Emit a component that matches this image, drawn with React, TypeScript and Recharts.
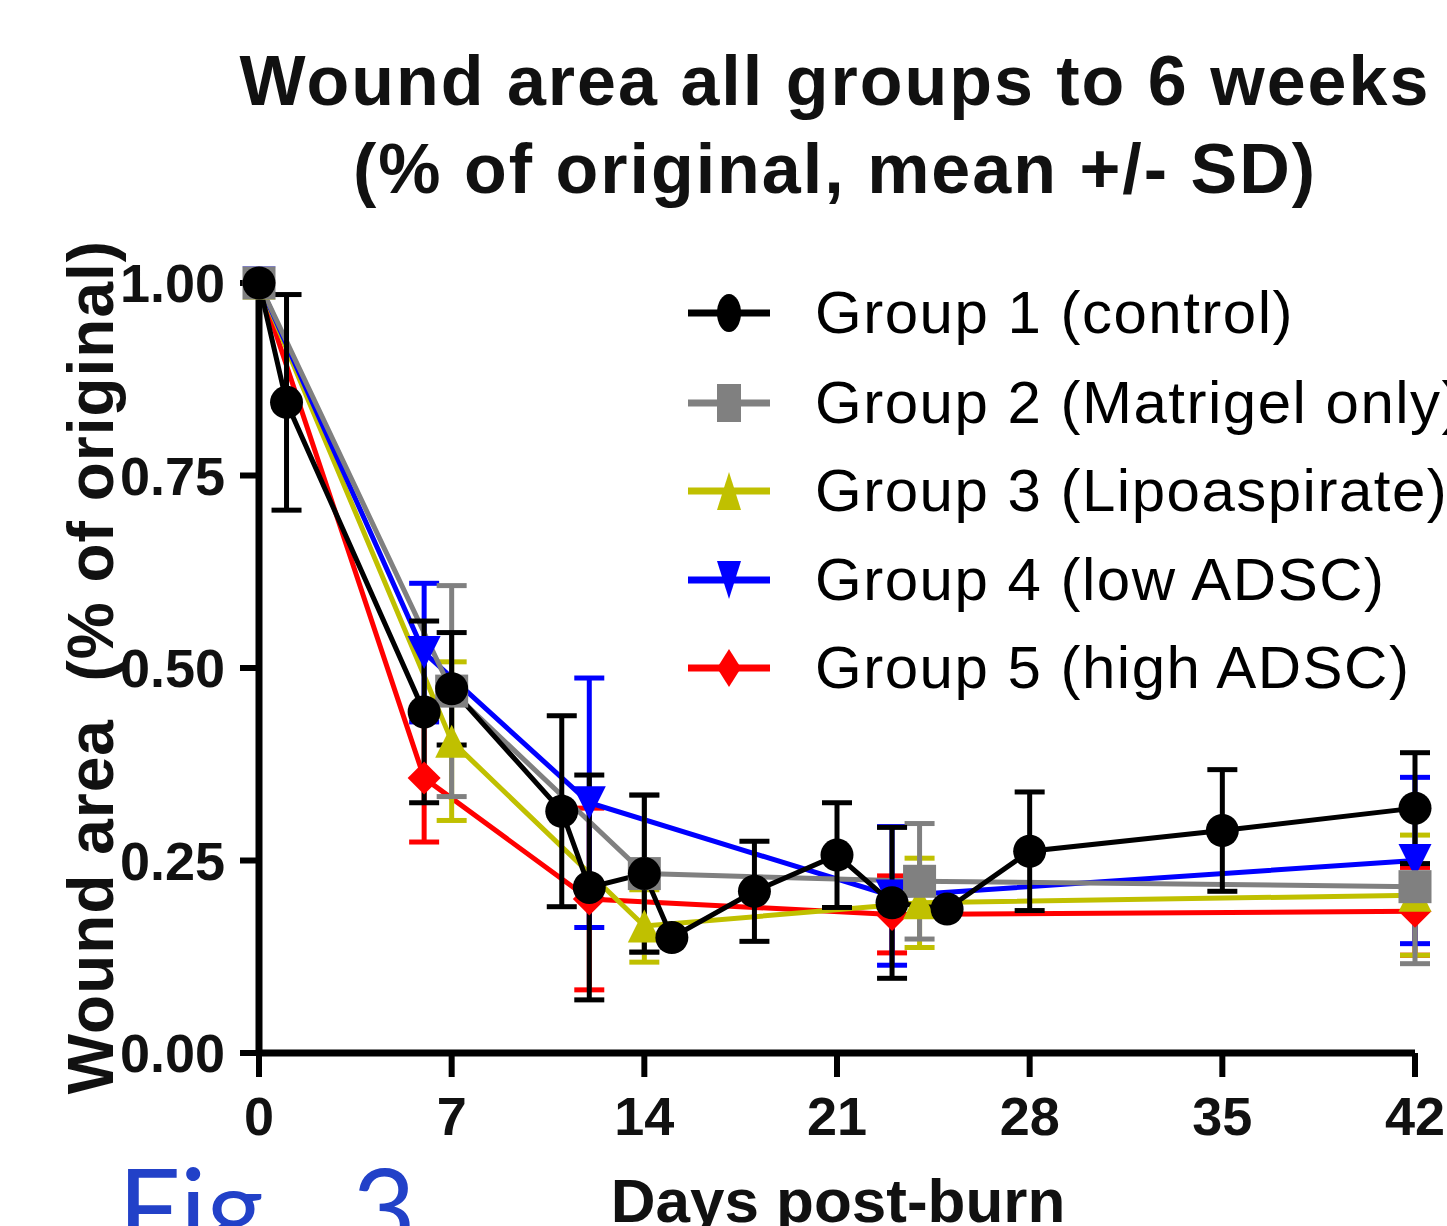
import { LineChart, Line, XAxis, YAxis, ErrorBar } from 'recharts';

// values (fraction of original wound area)
const g1Days = [0, 1, 6, 7, 11, 12, 14, 15, 18, 21, 23, 25, 28, 35, 42];
const g1Mean = [1.0, 0.845, 0.443, 0.473, 0.314, 0.215, 0.233, 0.15, 0.21, 0.257, 0.195, 0.187, 0.262, 0.289, 0.318];
const g1Sd = [0, 0.14, 0.118, 0.073, 0.124, 0.146, 0.102, 0, 0.065, 0.068, 0.098, 0, 0.077, 0.079, 0.072];

const g2Days = [0, 7, 14, 24, 42];
const g2Mean = [1.0, 0.47, 0.233, 0.223, 0.216];
const g2Sd = [0, 0.137, 0.102, 0.075, 0.1];

const g3Days = [0, 7, 14, 24, 42];
const g3Mean = [1.0, 0.405, 0.165, 0.195, 0.205];
const g3Sd = [0, 0.103, 0.047, 0.058, 0.078];

const g4Days = [0, 6, 12, 23, 42];
const g4Mean = [1.0, 0.52, 0.325, 0.204, 0.25];
const g4Sd = [0, 0.09, 0.162, 0.09, 0.108];

const g5Days = [0, 6, 12, 23, 42];
const g5Mean = [1.0, 0.357, 0.2, 0.18, 0.184];
const g5Sd = [0, 0.083, 0.118, 0.05, 0.057];

const groupNames = [
  'Group 1 (control)',
  'Group 2 (Matrigel only)',
  'Group 3 (Lipoaspirate)',
  'Group 4 (low ADSC)',
  'Group 5 (high ADSC)',
];
const groupColors = ['#000000', '#808080', '#C0C000', '#0000FF', '#FF0000'];
const groupShapes = ['circle', 'square', 'up', 'down', 'diamond'];

const xTicks = [0, 7, 14, 21, 28, 35, 42];
const yTicks = [0, 0.25, 0.5, 0.75, 1.0];

const build = (days: number[], mean: number[], sd: number[]) =>
  days.map((d, i) => ({ day: d, mean: mean[i], sd: sd[i] }));

const series = [
  build(g1Days, g1Mean, g1Sd),
  build(g2Days, g2Mean, g2Sd),
  build(g3Days, g3Mean, g3Sd),
  build(g4Days, g4Mean, g4Sd),
  build(g5Days, g5Mean, g5Sd),
];

// draw order: group 1 ends up on top
const drawOrder = [4, 2, 3, 1, 0];

const FONT = '"Liberation Sans", Arial, sans-serif';

function Marker({ shape, cx, cy, color, w = 33, h = 33 }: any) {
  const rx = w / 2;
  const ry = h / 2;
  if (cx == null || cy == null) return null;
  switch (shape) {
    case 'circle':
      return <ellipse cx={cx} cy={cy} rx={rx} ry={ry} fill={color} />;
    case 'square':
      return <rect x={cx - rx} y={cy - ry} width={w} height={h} fill={color} />;
    case 'up':
      return <polygon points={`${cx},${cy - ry} ${cx + rx},${cy + ry} ${cx - rx},${cy + ry}`} fill={color} />;
    case 'down':
      return <polygon points={`${cx - rx},${cy - ry} ${cx + rx},${cy - ry} ${cx},${cy + ry}`} fill={color} />;
    default:
      return <polygon points={`${cx},${cy - ry} ${cx + rx},${cy} ${cx},${cy + ry} ${cx - rx},${cy}`} fill={color} />;
  }
}

const legendRowY = [313, 403, 491, 580, 668];

export default function App() {
  return (
    <div style={{ position: 'absolute', left: 0, top: 0, width: 1447, height: 1226, background: '#fff', overflow: 'hidden' }}>
      <LineChart
        width={1447}
        height={1226}
        margin={{ top: 283, right: 32, bottom: 23, left: 0 }}
      >
        <XAxis
          dataKey="day"
          type="number"
          domain={[0, 42]}
          ticks={xTicks}
          height={150}
          axisLine={{ stroke: '#000', strokeWidth: 7 }}
          tickLine={{ stroke: '#000', strokeWidth: 6 }}
          tickSize={24}
          tickMargin={20}
          tick={{ fill: '#111', fontSize: 54, fontWeight: 'bold', fontFamily: FONT }}
          allowDuplicatedCategory={false}
        />
        <YAxis
          type="number"
          domain={[0, 1]}
          ticks={yTicks}
          width={259}
          axisLine={{ stroke: '#000', strokeWidth: 7 }}
          tickLine={{ stroke: '#000', strokeWidth: 6 }}
          tickSize={19}
          tickMargin={15}
          tickFormatter={(v: number) => v.toFixed(2)}
          tick={{ fill: '#111', fontSize: 54, fontWeight: 'bold', fontFamily: FONT }}
        />
        {drawOrder.map((g) => (
          <Line
            key={groupNames[g]}
            data={series[g]}
            dataKey="mean"
            name={groupNames[g]}
            stroke={groupColors[g]}
            strokeWidth={5}
            isAnimationActive={false}
            activeDot={false}
            dot={(p: any) => (
              <Marker
                key={`${g}-${p.index}`}
                shape={groupShapes[g]}
                cx={p.cx}
                cy={p.cy}
                color={groupColors[g]}
              />
            )}
          >
            <ErrorBar dataKey="sd" direction="y" width={15} strokeWidth={5} stroke={groupColors[g]} />
          </Line>
        ))}
      </LineChart>

      <svg
        width={1447}
        height={1226}
        style={{ position: 'absolute', left: 0, top: 0, pointerEvents: 'none' }}
      >
        <g fontFamily={FONT} fontWeight="bold" fontSize={70} letterSpacing={2} textAnchor="middle" fill="#111">
          <text x={835} y={105}>Wound area all groups to 6 weeks</text>
          <text x={835} y={193}>(% of original, mean +/- SD)</text>
        </g>
        <text
          x={113}
          y={667}
          transform="rotate(-90, 113, 667)"
          textAnchor="middle"
          fontFamily={FONT}
          fontWeight="bold"
          fontSize={64}
          letterSpacing={1}
          fill="#111"
          style={{ whiteSpace: 'pre' }}
        >
          {'Wound area  (% of original)'}
        </text>
        <text x={838} y={1222} textAnchor="middle" fontFamily={FONT} fontWeight="bold" fontSize={62} fill="#111">
          Days post-burn
        </text>
        <text x={118} y={1248} fontFamily="Lato, 'Open Sans', sans-serif" fontSize={110} fill="#2241C8">
          Fig.
          <tspan x={352}>3</tspan>
        </text>
        {groupNames.map((name, i) => (
          <g key={name}>
            <line x1={688} x2={770} y1={legendRowY[i]} y2={legendRowY[i]} stroke={groupColors[i]} strokeWidth={7} />
            <Marker shape={groupShapes[i]} cx={729} cy={legendRowY[i]} color={groupColors[i]} w={24} h={38} />
            <text
              x={815}
              y={legendRowY[i] + 20}
              fontFamily={FONT}
              fontSize={60}
              letterSpacing={1.5}
              fill="#000"
            >
              {name}
            </text>
          </g>
        ))}
      </svg>
    </div>
  );
}
